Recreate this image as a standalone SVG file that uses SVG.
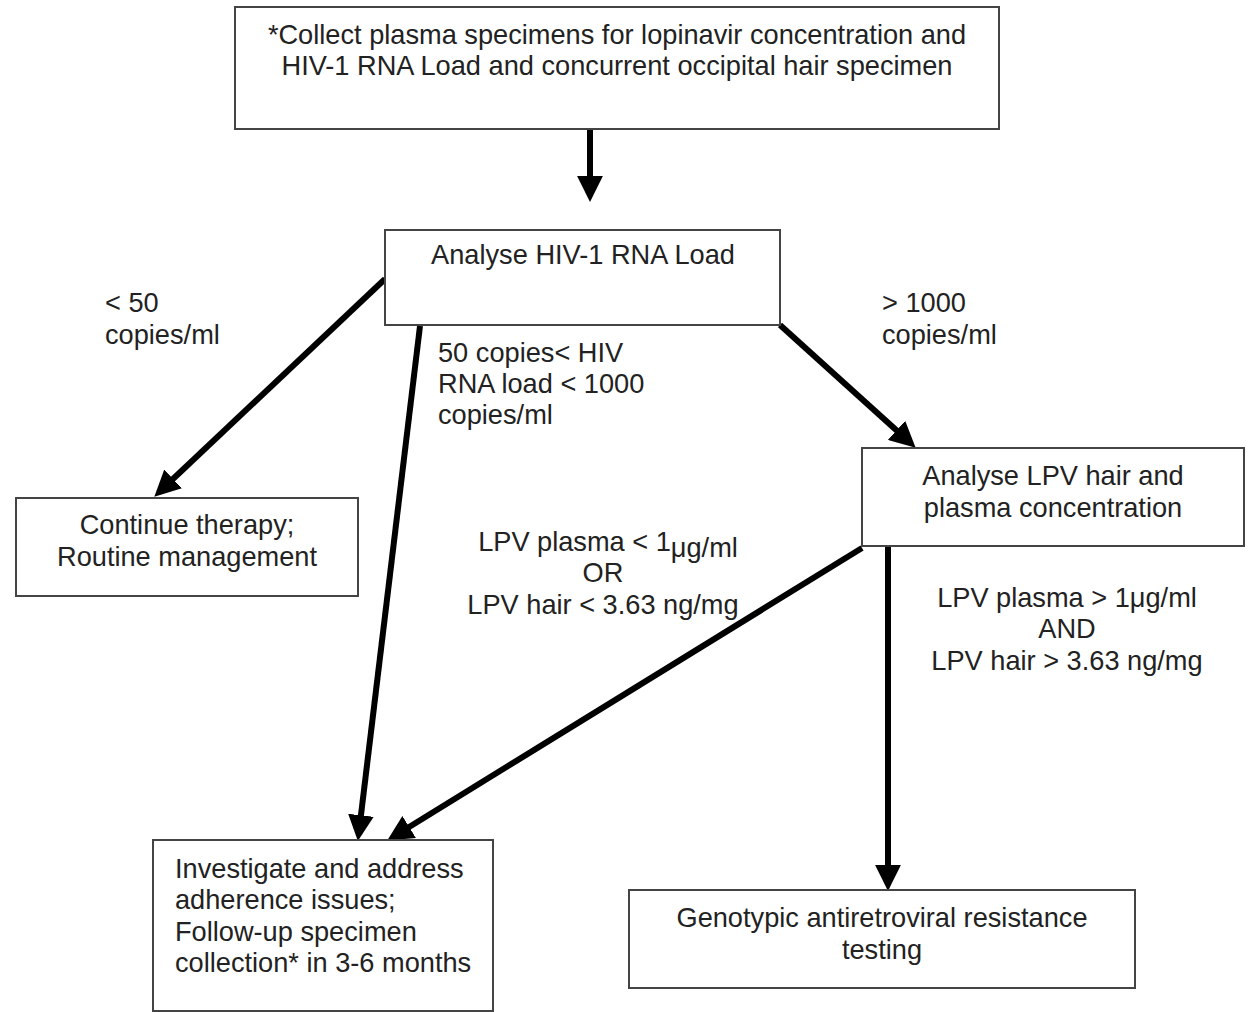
<svg xmlns="http://www.w3.org/2000/svg" width="1249" height="1012" viewBox="0 0 1249 1012">
<defs>
<style>
.box{fill:#fff;stroke:#444;stroke-width:2}
.t{font-family:"Liberation Sans",Arial,sans-serif;font-size:27.2px;fill:#222}
.c{text-anchor:middle}
.edge{stroke:#000;stroke-width:6;fill:none;marker-end:url(#ah)}
</style>
<marker id="ah" viewBox="0 0 10 10" refX="5" refY="5" markerWidth="4.3" markerHeight="4.3" orient="auto" markerUnits="strokeWidth">
<path d="M0,0 L10,5 L0,10 z" fill="#000"/>
</marker>
</defs>
<rect width="1249" height="1012" fill="#fff"/>
<g id="connectors">
<line class="edge" x1="590" y1="129" x2="590" y2="189"/>
<line class="edge" x1="385" y1="279" x2="163.7" y2="487.8"/>
<line class="edge" x1="420" y1="326" x2="359.4" y2="828.1"/>
<line class="edge" x1="862" y1="548" x2="398.2" y2="833.7"/>
<line class="edge" x1="780" y1="325" x2="906.1" y2="439"/>
<line class="edge" x1="888" y1="546" x2="888" y2="878"/>
</g>
<g id="labels">
<text class="t" x="105" y="312">&lt; 50</text>
<text class="t" x="105" y="344">copies/ml</text>
<text class="t" x="438" y="362">50 copies&lt; HIV</text>
<text class="t" x="438" y="393">RNA load &lt; 1000</text>
<text class="t" x="438" y="424">copies/ml</text>
<text class="t" x="882" y="312">&gt; 1000</text>
<text class="t" x="882" y="344">copies/ml</text>
<text class="t c" x="608" y="551">LPV plasma &lt; 1<tspan dy="6">μg/ml</tspan></text>
<text class="t c" x="603" y="582">OR</text>
<text class="t c" x="603" y="614">LPV hair &lt; 3.63 ng/mg</text>
<text class="t c" x="1067" y="607">LPV plasma &gt; 1μg/ml</text>
<text class="t c" x="1067" y="638">AND</text>
<text class="t c" x="1067" y="670">LPV hair &gt; 3.63 ng/mg</text>
</g>
<g id="collect">
<rect class="box" x="235" y="7" width="764" height="122"/>
<text class="t c" x="617" y="44">*Collect plasma specimens for lopinavir concentration and</text>
<text class="t c" x="617" y="75">HIV-1 RNA Load and concurrent occipital hair specimen</text>
</g>
<g id="analyse-rna">
<rect class="box" x="385" y="230" width="395" height="95"/>
<text class="t c" x="583" y="264">Analyse HIV-1 RNA Load</text>
</g>
<g id="continue">
<rect class="box" x="16" y="498" width="342" height="98"/>
<text class="t c" x="187" y="534">Continue therapy;</text>
<text class="t c" x="187" y="566">Routine management</text>
</g>
<g id="analyse-lpv">
<rect class="box" x="862" y="448" width="382" height="98"/>
<text class="t c" x="1053" y="485">Analyse LPV hair and</text>
<text class="t c" x="1053" y="517">plasma concentration</text>
</g>
<g id="investigate">
<rect class="box" x="153" y="840" width="340" height="171"/>
<text class="t" x="175" y="878">Investigate and address</text>
<text class="t" x="175" y="909">adherence issues;</text>
<text class="t" x="175" y="941">Follow-up specimen</text>
<text class="t" x="175" y="972">collection* in 3-6 months</text>
</g>
<g id="genotypic">
<rect class="box" x="629" y="890" width="506" height="98"/>
<text class="t c" x="882" y="927">Genotypic antiretroviral resistance</text>
<text class="t c" x="882" y="959">testing</text>
</g>
</svg>
